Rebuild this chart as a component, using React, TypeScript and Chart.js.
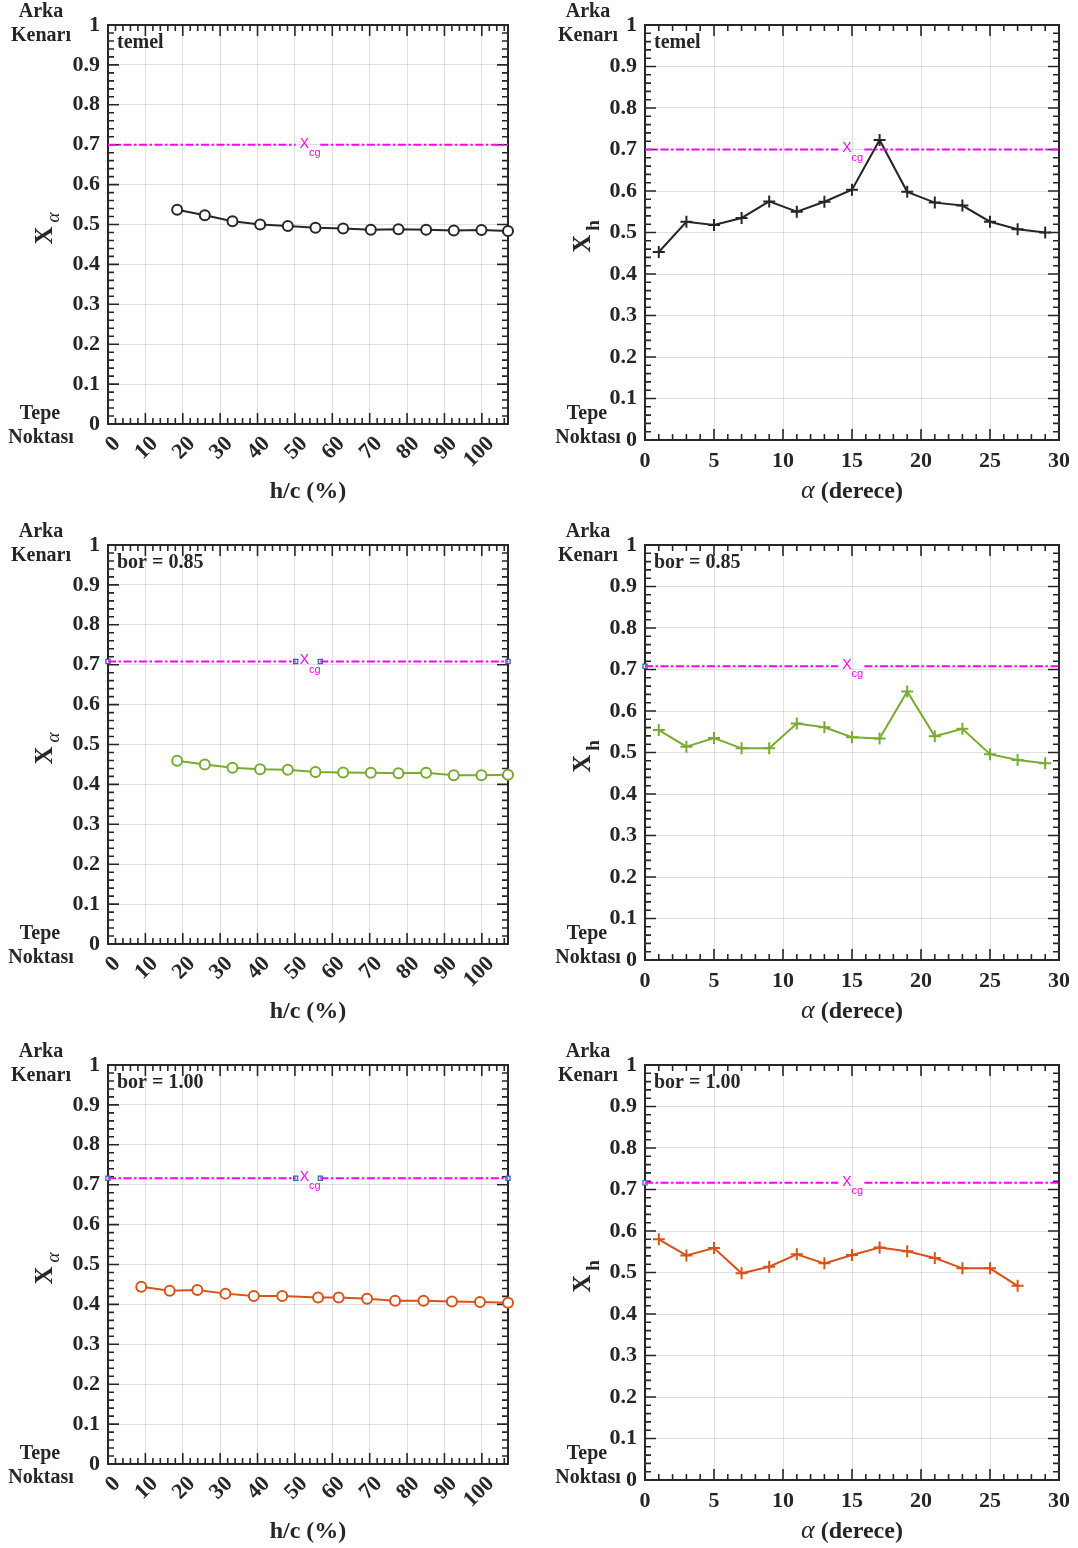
import React, { useEffect, useRef } from "react";
import { Chart, registerables } from "chart.js";

Chart.register(...registerables);

// ---------- tick labels ----------
const hcTicks = [0, 10, 20, 30, 40, 50, 60, 70, 80, 90, 100];
const alphaTicks = [0, 5, 10, 15, 20, 25, 30];
const yTicks = [0, 0.1, 0.2, 0.3, 0.4, 0.5, 0.6, 0.7, 0.8, 0.9, 1];

// ---------- X_alpha vs h/c ----------
const hcTemel = [18.5, 25.9, 33.3, 40.7, 48.1, 55.5, 62.9, 70.3, 77.7, 85.1, 92.5, 99.9, 107];
const xaTemel = [0.537, 0.523, 0.508, 0.5, 0.496, 0.492, 0.49, 0.487, 0.488, 0.487, 0.485, 0.486, 0.484];
const hcBor085 = [18.5, 25.9, 33.3, 40.7, 48.1, 55.5, 62.9, 70.3, 77.7, 85.1, 92.5, 99.9, 107];
const xaBor085 = [0.459, 0.45, 0.442, 0.438, 0.437, 0.431, 0.43, 0.429, 0.428, 0.429, 0.423, 0.423, 0.424];
const hcBor100 = [8.9, 16.5, 23.9, 31.4, 39.0, 46.6, 56.2, 61.7, 69.3, 76.8, 84.4, 92.0, 99.5, 107];
const xaBor100 = [0.444, 0.434, 0.436, 0.427, 0.421, 0.421, 0.417, 0.417, 0.414, 0.409, 0.409, 0.407, 0.406, 0.404];

// ---------- X_h vs alpha ----------
const alphaTemel = [1, 3, 5, 7, 9, 11, 13, 15, 17, 19, 21, 23, 25, 27, 29];
const xhTemel = [0.453, 0.526, 0.518, 0.535, 0.575, 0.55, 0.574, 0.603, 0.723, 0.598, 0.572, 0.565, 0.526, 0.508, 0.5];
const alphaBor085 = [1, 3, 5, 7, 9, 11, 13, 15, 17, 19, 21, 23, 25, 27, 29];
const xhBor085 = [0.554, 0.514, 0.535, 0.51, 0.51, 0.57, 0.561, 0.537, 0.534, 0.647, 0.539, 0.557, 0.496, 0.482, 0.474];
const alphaBor100 = [1, 3, 5, 7, 9, 11, 13, 15, 17, 19, 21, 23, 25, 27];
const xhBor100 = [0.58, 0.541, 0.559, 0.498, 0.514, 0.544, 0.522, 0.542, 0.56, 0.551, 0.535, 0.51, 0.51, 0.468];

// ---------- X_cg reference ----------
const xcgRows = [0.7, 0.708, 0.716];
const xcgGapHC = [50.2, 56.8];
const xcgGapAlpha = [14.0, 15.9];
const handlesHC = [0, 50.2, 56.8, 107];
const handlesAlpha = [0];

const panelTitles = ["temel", "bor = 0.85", "bor = 1.00"];

const SERIF = '"Liberation Serif", "Times New Roman", serif';
const SANS = '"Liberation Sans", Arial, sans-serif';
const INK = "#262626";
const COLORS = ["#262626", "#77ac30", "#d95319"];

type Cfg = {
  key: string;
  left: number;
  top: number;
  w: number;
  h: number;
  area: { l: number; t: number; r: number; b: number };
  xs: number[];
  ys: number[];
  xMax: number;
  xTicks: number[];
  xMajor: number;
  xMinor: number;
  rotate: boolean;
  color: string;
  marker: "circle" | "cross";
  xcg: number;
  gap: number[];
  handles: number[];
  title: string;
  kind: "hc" | "alpha";
  cornerX: number;
};

function makeDecor(cfg: Cfg) {
  return {
    id: "decor" + cfg.key,
    beforeDatasetsDraw(chart: any) {
      const { ctx, chartArea: a } = chart;
      const xs = chart.scales.x;
      const ys = chart.scales.y;
      ctx.save();
      ctx.strokeStyle = INK;
      ctx.lineWidth = 1.6;
      ctx.beginPath();
      const nx = Math.floor(cfg.xMax / cfg.xMinor + 1e-6);
      for (let i = 0; i <= nx; i++) {
        const v = i * cfg.xMinor;
        const q = v / cfg.xMajor;
        const major = Math.abs(q - Math.round(q)) < 1e-6;
        const L = major ? 11 : 6;
        const px = xs.getPixelForValue(v);
        ctx.moveTo(px, a.bottom);
        ctx.lineTo(px, a.bottom - L);
        ctx.moveTo(px, a.top);
        ctx.lineTo(px, a.top + L);
      }
      for (let i = 0; i <= 50; i++) {
        const v = i * 0.02;
        const major = i % 5 === 0;
        const L = major ? 11 : 6;
        const py = ys.getPixelForValue(v);
        ctx.moveTo(a.left, py);
        ctx.lineTo(a.left + L, py);
        ctx.moveTo(a.right, py);
        ctx.lineTo(a.right - L, py);
      }
      ctx.stroke();
      ctx.lineWidth = 2;
      ctx.strokeRect(a.left, a.top, a.right - a.left, a.bottom - a.top);
      ctx.restore();
    },
    afterDraw(chart: any) {
      const { ctx, chartArea: a } = chart;
      const xs = chart.scales.x;
      const ys = chart.scales.y;
      ctx.save();
      ctx.fillStyle = INK;
      ctx.textAlign = "center";
      ctx.textBaseline = "middle";
      ctx.font = `bold 20px ${SERIF}`;
      ctx.fillText("Arka", cfg.cornerX, 12);
      ctx.fillText("Kenarı", cfg.cornerX, 36);
      ctx.fillText("Tepe", cfg.cornerX - 1, 414);
      ctx.fillText("Noktası", cfg.cornerX, 438);

      // panel title
      ctx.textAlign = "left";
      ctx.fillText(cfg.title, a.left + 9, a.top + 18);

      // x title
      const cx = (a.left + a.right) / 2;
      if (cfg.kind === "hc") {
        ctx.textAlign = "center";
        ctx.font = `bold 24px ${SERIF}`;
        ctx.fillText("h/c (%)", cx, 492);
      } else {
        const f1 = `italic 26px ${SERIF}`;
        const f2 = `bold 24px ${SERIF}`;
        ctx.font = f1;
        const w1 = ctx.measureText("α").width;
        ctx.font = f2;
        const w2 = ctx.measureText(" (derece)").width;
        const s = cx - (w1 + w2) / 2;
        ctx.textAlign = "left";
        ctx.font = f1;
        ctx.fillText("α", s, 491);
        ctx.font = f2;
        ctx.fillText(" (derece)", s + w1, 492);
      }

      // y title (rotated)
      const yc = (a.top + a.bottom) / 2;
      ctx.translate(cfg.kind === "hc" ? 44 : 43, yc + 4);
      ctx.rotate(-Math.PI / 2);
      ctx.textAlign = "left";
      ctx.textBaseline = "alphabetic";
      const mainFont = `bold 25px ${SERIF}`;
      const subFont = cfg.kind === "hc" ? `italic 19px ${SERIF}` : `bold 19px ${SERIF}`;
      const sub = cfg.kind === "hc" ? "α" : "h";
      ctx.font = mainFont;
      const wm = ctx.measureText("X").width;
      ctx.font = subFont;
      const ws = ctx.measureText(sub).width;
      const st = -(wm + 4 + ws) / 2;
      ctx.font = mainFont;
      ctx.fillText("X", st, 8);
      ctx.font = subFont;
      ctx.fillText(sub, st + wm + 4, cfg.kind === "hc" ? 15 : 17);
      ctx.setTransform(1, 0, 0, 1, 0, 0);

      // X_cg label
      const lx = xs.getPixelForValue(cfg.gap[0]) + 4;
      const ly = ys.getPixelForValue(cfg.xcg);
      ctx.fillStyle = "#ff00ff";
      ctx.textAlign = "left";
      ctx.textBaseline = "middle";
      ctx.font = `14px ${SANS}`;
      ctx.fillText("X", lx, ly - 1);
      const wx = ctx.measureText("X").width;
      ctx.font = `11px ${SANS}`;
      ctx.fillText("cg", lx + wx, ly + 8);
      ctx.restore();
    },
  };
}

function Panel({ cfg }: { cfg: Cfg }) {
  const ref = useRef<HTMLCanvasElement | null>(null);
  useEffect(() => {
    const canvas = ref.current;
    if (!canvas) return;
    const series = cfg.xs.map((x, i) => ({ x, y: cfg.ys[i] }));
    const xcgLine = [
      { x: 0, y: cfg.xcg },
      { x: cfg.gap[0], y: cfg.xcg },
      { x: (cfg.gap[0] + cfg.gap[1]) / 2, y: null as any },
      { x: cfg.gap[1], y: cfg.xcg },
      { x: cfg.xMax, y: cfg.xcg },
    ];
    const handles = cfg.handles.map((x) => ({ x, y: cfg.xcg }));
    const chart = new Chart(canvas, {
      type: "scatter",
      data: {
        datasets: [
          {
            data: xcgLine,
            showLine: true,
            spanGaps: false,
            borderColor: "#ff00ff",
            borderWidth: 2,
            borderDash: [8, 2.5, 2.5, 2.5],
            pointRadius: 0,
            clip: false as any,
          },
          {
            data: series,
            showLine: true,
            borderColor: cfg.color,
            borderWidth: 2,
            pointStyle: cfg.marker,
            pointRadius: cfg.marker === "circle" ? 5 : 6,
            pointBorderWidth: 2,
            pointBorderColor: cfg.color,
            pointBackgroundColor: "#ffffff",
            clip: false as any,
          },
          {
            data: handles,
            showLine: false,
            pointStyle: "rect",
            pointRadius: 3,
            pointBorderWidth: 1.2,
            pointBorderColor: "#2c6aa8",
            pointBackgroundColor: "#dbe8f5",
            clip: false as any,
          },
        ],
      },
      options: {
        responsive: false,
        animation: false,
        events: [],
        layout: {
          padding: { left: 0, top: cfg.area.t, right: cfg.w - cfg.area.r, bottom: 0 },
        },
        plugins: { legend: { display: false }, tooltip: { enabled: false } },
        scales: {
          x: {
            type: "linear",
            min: 0,
            max: cfg.xMax,
            afterBuildTicks: (s: any) => {
              s.ticks = cfg.xTicks.map((v) => ({ value: v }));
            },
            afterFit: (s: any) => {
              s.height = cfg.h - cfg.area.b;
            },
            grid: { color: "rgba(0,0,0,0.12)", lineWidth: 1, drawTicks: false },
            border: { display: false },
            ticks: {
              autoSkip: false,
              minRotation: cfg.rotate ? 45 : 0,
              maxRotation: cfg.rotate ? 45 : 0,
              padding: cfg.rotate ? 7 : 8,
              labelOffset: cfg.rotate ? 9 : 0,
              color: INK,
              font: { family: SERIF, size: 22, weight: "bold" },
              callback: (v: any) => String(v),
            },
          },
          y: {
            type: "linear",
            min: 0,
            max: 1,
            afterBuildTicks: (s: any) => {
              s.ticks = yTicks.map((v) => ({ value: v }));
            },
            afterFit: (s: any) => {
              s.width = cfg.area.l;
            },
            grid: { color: "rgba(0,0,0,0.12)", lineWidth: 1, drawTicks: false },
            border: { display: false },
            ticks: {
              padding: 8,
              color: INK,
              font: { family: SERIF, size: 22, weight: "bold" },
              callback: (v: any) => String(v),
            },
          },
        },
      },
      plugins: [makeDecor(cfg)],
    } as any);
    return () => chart.destroy();
  }, [cfg]);
  return (
    <canvas
      ref={ref}
      width={cfg.w}
      height={cfg.h}
      style={{ position: "absolute", left: cfg.left, top: cfg.top, width: cfg.w, height: cfg.h }}
    />
  );
}

const rowTops = [0, 520, 1040];
const rowHeights = [520, 520, 508];
const hcData = [
  [hcTemel, xaTemel],
  [hcBor085, xaBor085],
  [hcBor100, xaBor100],
];
const alphaData = [
  [alphaTemel, xhTemel],
  [alphaBor085, xhBor085],
  [alphaBor100, xhBor100],
];

const panels: Cfg[] = [];
for (let r = 0; r < 3; r++) {
  panels.push({
    key: "L" + r,
    left: 0,
    top: rowTops[r],
    w: 539,
    h: rowHeights[r],
    area: { l: 108, t: 25, r: 508, b: 424 },
    xs: hcData[r][0],
    ys: hcData[r][1],
    xMax: 107,
    xTicks: hcTicks,
    xMajor: 10,
    xMinor: 2,
    rotate: true,
    color: COLORS[r],
    marker: "circle",
    xcg: xcgRows[r],
    gap: xcgGapHC,
    handles: r === 0 ? [] : handlesHC,
    title: panelTitles[r],
    kind: "hc",
    cornerX: 41,
  });
  panels.push({
    key: "R" + r,
    left: 539,
    top: rowTops[r],
    w: 539,
    h: rowHeights[r],
    area: { l: 106, t: 25, r: 523, b: 440 },
    xs: alphaData[r][0],
    ys: alphaData[r][1],
    xMax: 30,
    xTicks: alphaTicks,
    xMajor: 5,
    xMinor: 1,
    rotate: false,
    color: COLORS[r],
    marker: "cross",
    xcg: xcgRows[r],
    gap: xcgGapAlpha,
    handles: r === 0 ? [] : handlesAlpha,
    title: panelTitles[r],
    kind: "alpha",
    cornerX: 49,
  });
}

export default function App() {
  return (
    <div
      style={{
        position: "absolute",
        left: 0,
        top: 0,
        width: 1078,
        height: 1548,
        background: "#ffffff",
        overflow: "hidden",
      }}
    >
      {panels.map((p) => (
        <Panel key={p.key} cfg={p} />
      ))}
    </div>
  );
}
